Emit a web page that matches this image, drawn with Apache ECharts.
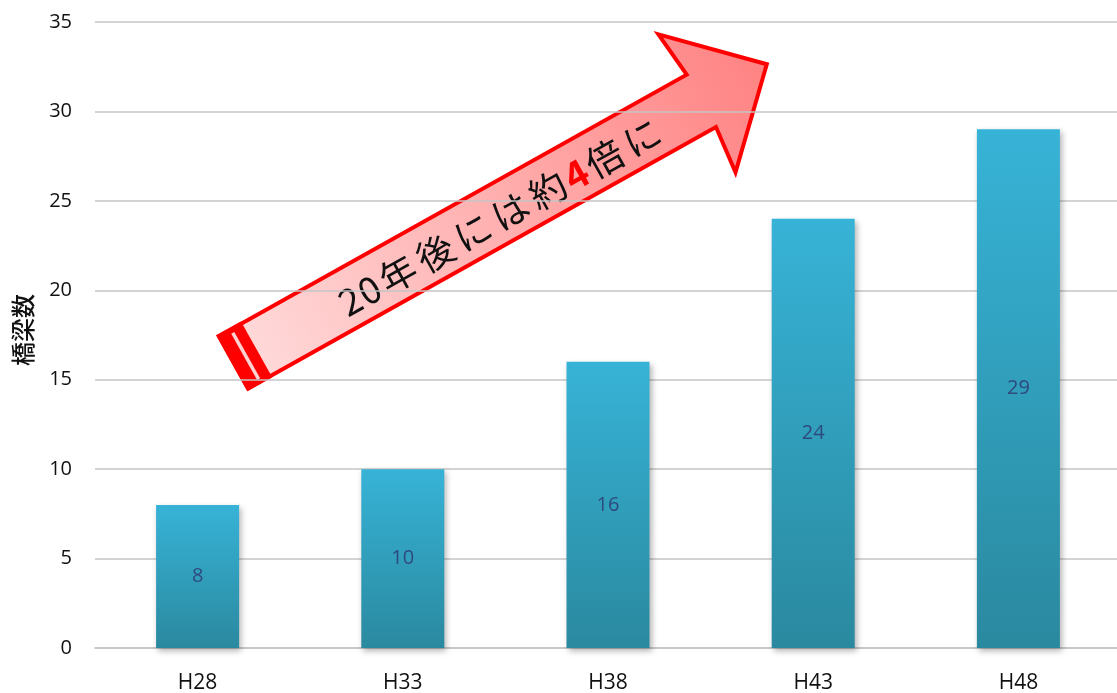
<!DOCTYPE html>
<html>
<head>
<meta charset="utf-8">
<script src="https://cdn.jsdelivr.net/npm/echarts@6/dist/echarts.min.js"></script>
<style>
html,body{margin:0;padding:0;background:#fff;}
#chart{width:1117px;height:693px;}
</style>
</head>
<body>
<div id="chart"></div>
<script>
// ---- data ----
const categories = ['H28', 'H33', 'H38', 'H43', 'H48'];
const bridgeCounts = [8, 10, 16, 24, 29];
const yTicks = { min: 0, max: 35, interval: 5 };
const yAxisName = '橋梁数';
const arrowChars = ['2', '0', '年', '後', 'に', 'は', '約', '4', '倍', 'に'];
const highlightChar = '4';

// ---- annotation arrow (annotation only, not data) ----
const deg = 29.2;
const arrowChildren = [];
arrowChildren.push({
  type: 'polygon',
  shape: { points: [[2, -30], [538, -30], [533, -79], [613, 0], [533, 79], [538, 30], [2, 30]] },
  style: {
    fill: new echarts.graphic.LinearGradient(0, 0, 1, 0, [
      { offset: 0, color: '#ffdcdc' },
      { offset: 1, color: '#ff8282' }
    ]),
    stroke: '#ff0000',
    lineWidth: 4,
    lineJoin: 'miter'
  }
});
arrowChildren.push({ type: 'rect', shape: { x: 0, y: -32, width: 28.5, height: 64 }, style: { fill: '#ff0000' } });
arrowChildren.push({ type: 'rect', shape: { x: 14, y: -26, width: 3.5, height: 53 }, style: { fill: '#ffd2d2' } });
let pos = 134;
let prevHalf = true;
arrowChars.forEach((ch, i) => {
  const half = /[0-9]/.test(ch);
  if (i > 0) pos += (prevHalf ? 11 : 21.5) + (half ? 11 : 21.5);
  prevHalf = half;
  const hl = ch === highlightChar;
  arrowChildren.push({
    type: 'text',
    x: pos,
    y: 3,
    style: {
      text: ch,
      fill: hl ? '#ff0000' : '#111111',
      font: (hl ? 'bold 38px' : '37px') + ' "Noto Sans CJK JP", sans-serif',
      align: 'center',
      verticalAlign: 'middle'
    }
  });
});

const chart = echarts.init(document.getElementById('chart'), null, { renderer: 'canvas' });
chart.setOption({
  animation: false,
  backgroundColor: '#ffffff',
  grid: { left: 95, right: -4, top: 22, bottom: 45, containLabel: false, outerBoundsMode: 'none' },
  xAxis: {
    type: 'category',
    data: categories,
    axisLine: { show: true, lineStyle: { color: '#c4c4c4', width: 1.5 } },
    axisTick: { show: false },
    axisLabel: { color: '#111', fontSize: 21, fontFamily: '"Open Sans", sans-serif', margin: 25 }
  },
  yAxis: {
    type: 'value',
    min: yTicks.min,
    max: yTicks.max,
    interval: yTicks.interval,
    name: yAxisName,
    nameLocation: 'middle',
    nameRotate: 90,
    nameGap: 60,
    nameTextStyle: { color: '#111', fontSize: 24, fontWeight: 500, fontFamily: '"Noto Sans CJK JP", sans-serif', padding: [0, 0, 0, 10] },
    axisLine: { show: false },
    axisTick: { show: false },
    axisLabel: { color: '#111', fontSize: 20, fontFamily: '"Open Sans", sans-serif', margin: 23 },
    splitLine: { lineStyle: { color: '#c4c4c4', width: 1.5 } }
  },
  series: [{
    type: 'bar',
    data: bridgeCounts,
    barWidth: 83,
    itemStyle: {
      color: new echarts.graphic.LinearGradient(0, 0, 0, 1, [
        { offset: 0, color: '#37b3d7' },
        { offset: 1, color: '#2a899f' }
      ]),
      shadowColor: 'rgba(0,0,0,0.3)',
      shadowBlur: 6,
      shadowOffsetX: 2,
      shadowOffsetY: 3
    },
    label: {
      show: true,
      position: 'inside',
      color: '#2e4a7d',
      fontSize: 20,
      fontFamily: '"Open Sans", sans-serif'
    }
  }],
  graphic: [{
    type: 'group',
    x: 231.7,
    y: 363.3,
    rotation: deg * Math.PI / 180,
    z: 100,
    children: arrowChildren
  }]
});
</script>
</body>
</html>
